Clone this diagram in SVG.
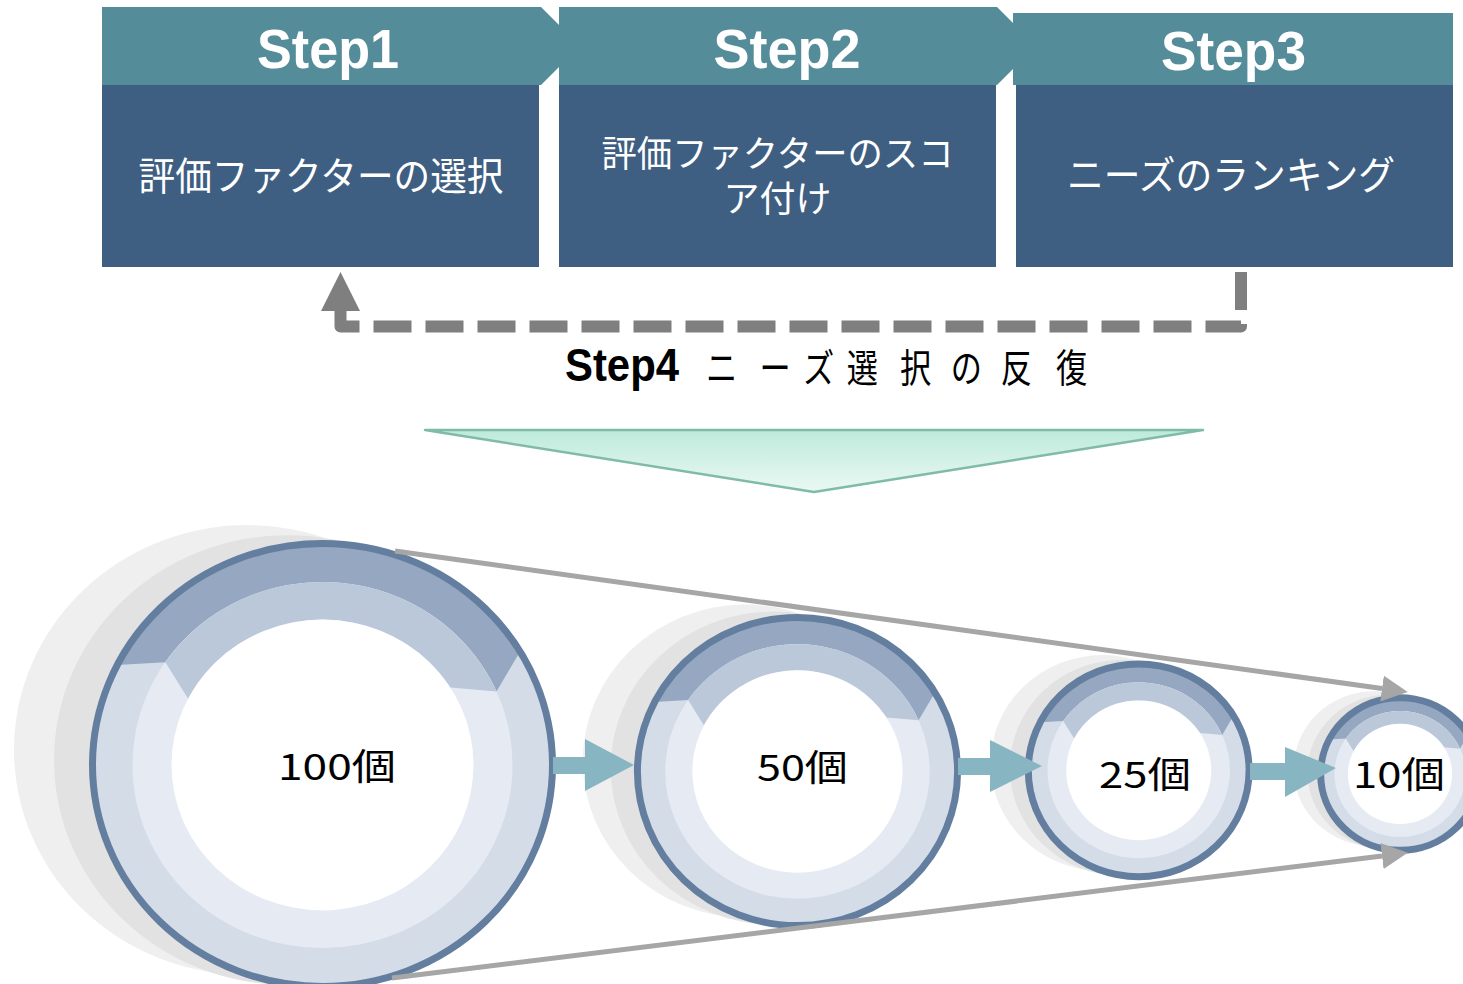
<svg xmlns="http://www.w3.org/2000/svg" width="1463" height="984" viewBox="0 0 1463 984">
<defs>
<style>
.hdr{fill:#558C99}
.body{fill:#3E5E82}
.htxt{font-family:"Liberation Sans",Arial,sans-serif;font-weight:bold;font-size:55px;fill:#FFFFFF;text-anchor:middle}
.btxt{font-family:"Noto Sans CJK JP","Noto Sans CJK SC",sans-serif;font-size:39px;fill:#FFFFFF;text-anchor:middle}
.btxt2{font-family:"Noto Sans CJK JP","Noto Sans CJK SC",sans-serif;font-size:36px;fill:#FFFFFF;text-anchor:middle}
.ctxt{font-family:"Noto Sans CJK JP","Noto Sans CJK SC",sans-serif;font-size:36px;fill:#000000;text-anchor:middle}
.conv{fill:none;stroke:#A6A6A6;stroke-width:5}
.flow{fill:#88B5C2}
.loop{fill:none;stroke:#7F7F7F;stroke-width:12;stroke-dasharray:38 14;stroke-linejoin:round}
</style>
<linearGradient id="triGrad" x1="0" y1="0" x2="0" y2="1">
<stop offset="0" stop-color="#BDEADB"/>
<stop offset="1" stop-color="#EBF8F4"/>
</linearGradient>
<marker id="grayHead" markerUnits="userSpaceOnUse" markerWidth="26" markerHeight="26" refX="0" refY="13" orient="auto" viewBox="0 0 26 26">
<path d="M0,0 L26,13 L0,26 Z" fill="#A6A6A6"/>
</marker>
<g id="ring">
<circle cx="-75" cy="-15.6" r="233.5" fill="#EFEFEF"/>
<circle cx="-35" cy="-5.2" r="233.5" fill="#E2E2E2"/>
<circle cx="0" cy="0" r="230" fill="#D4DCE8"/>
<path d="M-205.3,-103.8 A230,230 0 0 1 197.6,-117.8 L174.0,-76.4 A190,190 0 0 0 -157.2,-106.8 Z" fill="#96A8C1"/>
<circle cx="0" cy="0" r="190" fill="#E6EBF3"/>
<path d="M-157.2,-106.8 A190,190 0 0 1 174.0,-76.4 L127.8,-80.5 A151,151 0 0 0 -134.4,-68.8 Z" fill="#BAC8DA"/>
<circle cx="0" cy="0" r="151" fill="#FFFFFF"/>
<circle cx="0" cy="0" r="230" fill="none" stroke="#637E9F" stroke-width="7" vector-effect="non-scaling-stroke"/>
</g>
</defs>

<g id="step1">
<polygon class="hdr" points="102,7 541,7 580,46 541,85 102,85"/>
<rect class="body" x="102" y="85" width="437" height="182"/>
<text class="htxt" x="328" y="68" textLength="142" lengthAdjust="spacingAndGlyphs">Step1</text>
<text class="btxt" x="321" y="190" textLength="365" lengthAdjust="spacingAndGlyphs">評価ファクターの選択</text>
</g>

<g id="step2">
<polygon class="hdr" points="559,7 997,7 1036,46 997,85 559,85"/>
<rect class="body" x="559" y="85" width="437" height="182"/>
<text class="htxt" x="787" y="68" textLength="147" lengthAdjust="spacingAndGlyphs">Step2</text>
<text class="btxt2" x="777.5" y="167" textLength="352" lengthAdjust="spacingAndGlyphs">評価ファクターのスコ</text>
<text class="btxt2" x="777.5" y="212" textLength="108" lengthAdjust="spacingAndGlyphs">ア付け</text>
</g>

<g id="step3">
<rect class="hdr" x="1013" y="13" width="440" height="72"/>
<rect class="body" x="1016" y="85" width="437" height="182"/>
<text class="htxt" x="1233.5" y="70" textLength="145" lengthAdjust="spacingAndGlyphs">Step3</text>
<text class="btxt" x="1231" y="189" textLength="328" lengthAdjust="spacingAndGlyphs">ニーズのランキング</text>
</g>

<g id="step4-label">
<text x="565" y="381" font-family="'Liberation Sans',Arial,sans-serif" font-weight="bold" font-size="46" fill="#000000" textLength="114" lengthAdjust="spacingAndGlyphs">Step4</text>
<text transform="translate(0,382) scale(0.8,1)" x="901.9 968.8 1023.1 1078.1 1144.4 1208.1 1270.6 1339.4" y="0" font-family="'Noto Sans CJK JP','Noto Sans CJK SC',sans-serif" font-size="39" fill="#000000" text-anchor="middle">ニーズ選択の反復</text>
</g>

<g id="funnel">
<polygon points="425,430 1203,430 814,492" fill="url(#triGrad)" stroke="#7FBCA8" stroke-width="2.5" stroke-linejoin="round"/>
</g>

<g id="node-100">
<use href="#ring" transform="translate(322.5,765) scale(1,0.963)"/>
<text class="ctxt" x="337" y="780" textLength="118" lengthAdjust="spacingAndGlyphs">100個</text>
</g>

<g id="node-50">
<use href="#ring" transform="translate(797.5,771.5) scale(0.696,0.670)"/>
<text class="ctxt" x="802.5" y="781" textLength="91" lengthAdjust="spacingAndGlyphs">50個</text>
</g>

<g id="node-25">
<use href="#ring" transform="translate(1138.7,770.3) scale(0.48,0.4625)"/>
<text class="ctxt" x="1145" y="788" textLength="92" lengthAdjust="spacingAndGlyphs">25個</text>
</g>

<g id="node-10">
<use href="#ring" transform="translate(1400,774) scale(0.345,0.332)"/>
<text class="ctxt" x="1399" y="788" textLength="92" lengthAdjust="spacingAndGlyphs">10個</text>
</g>

<g id="connectors">
<path class="loop" d="M1241,272 V326.5 H340.5 V311"/>
<polygon points="321,311 360,311 340.5,272" fill="#7F7F7F"/>
<polygon class="flow" points="553,757 585,757 585,739 634,765 585,791 585,774 553,774"/>
<polygon class="flow" points="958,758 990,758 990,740 1042,766 990,792 990,775 958,775"/>
<polygon class="flow" points="1250,763 1285,763 1285,747 1336,768 1285,797 1285,780 1250,780"/>
<path class="conv" d="M395,551 L1382,688.5" marker-end="url(#grayHead)"/>
<path class="conv" d="M392,978 L1382,856" marker-end="url(#grayHead)"/>
</g>
</svg>
